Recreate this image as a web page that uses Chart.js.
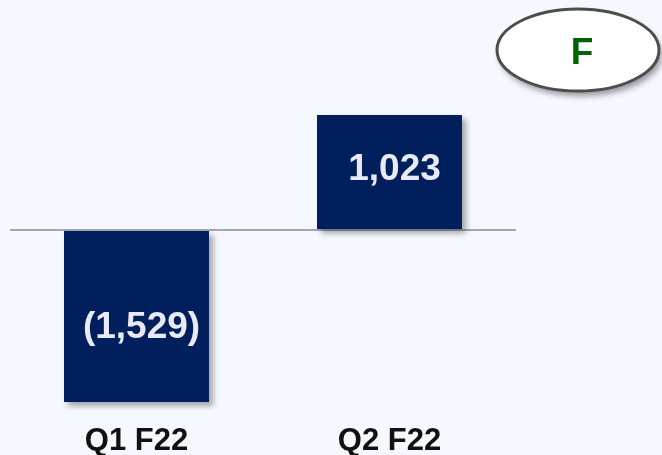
<!DOCTYPE html>
<html>
<head>
<meta charset="utf-8">
<script src="https://cdn.jsdelivr.net/npm/chart.js@4"></script>
<style>
  html, body { margin: 0; padding: 0; background: #f5f8ff; }
  #wrap { width: 662px; height: 455px; }
</style>
</head>
<body>
<div id="wrap"><canvas id="myChart" width="662" height="455"></canvas></div>
<script>
const categories = ['Q1 F22', 'Q2 F22'];
const values = [-1529, 1023];
const badgeText = 'F';

const fmt = v => {
    const s = Math.abs(v).toLocaleString('en-US');
    return v < 0 ? '(' + s + ')' : s;
};

// shadow under the bars + value labels inside them
const barExtras = {
    id: 'barExtras',
    beforeDatasetsDraw(chart) {
        const ctx = chart.ctx;
        ctx.save();
        ctx.shadowColor = 'rgba(0,0,0,0.35)';
        ctx.shadowBlur = 6;
        ctx.shadowOffsetX = 4;
        ctx.shadowOffsetY = 4;
    },
    afterDatasetsDraw(chart) {
        const ctx = chart.ctx;
        ctx.restore();
        const meta = chart.getDatasetMeta(0);
        ctx.save();
        ctx.fillStyle = '#e8ebf5';
        ctx.font = 'bold 37px "Liberation Sans", Arial, sans-serif';
        ctx.textAlign = 'center';
        ctx.textBaseline = 'middle';
        meta.data.forEach((bar, i) => {
            const mid = (bar.y + bar.base) / 2;
            const dy = values[i] < 0 ? 11 : -2;
            ctx.fillText(fmt(values[i]), bar.x + 5, mid + dy);
        });
        ctx.restore();
    },
    afterDraw(chart) {
        // the "F" badge in the top right corner
        const ctx = chart.ctx;
        ctx.save();
        ctx.beginPath();
        ctx.ellipse(578, 50, 81, 41, 0, 0, Math.PI * 2);
        ctx.shadowColor = 'rgba(0,0,0,0.4)';
        ctx.shadowBlur = 6;
        ctx.shadowOffsetX = 3;
        ctx.shadowOffsetY = 5;
        ctx.fillStyle = '#ffffff';
        ctx.fill();
        ctx.shadowColor = 'transparent';
        ctx.lineWidth = 3;
        ctx.strokeStyle = '#4d4d4d';
        ctx.stroke();
        ctx.fillStyle = '#006400';
        ctx.font = 'bold 37px "Liberation Sans", Arial, sans-serif';
        ctx.textAlign = 'center';
        ctx.textBaseline = 'middle';
        ctx.fillText(badgeText, 582, 54);
        ctx.restore();
    }
};

new Chart(document.getElementById('myChart'), {
    type: 'bar',
    data: {
        labels: categories,
        datasets: [{
            data: values,
            backgroundColor: '#001f5c',
            borderWidth: 0,
            barPercentage: 0.573,
            categoryPercentage: 1
        }]
    },
    options: {
        responsive: false,
        animation: false,
        devicePixelRatio: 1,
        layout: { padding: { left: 10, right: 146, top: 5, bottom: 0 } },
        plugins: {
            legend: { display: false },
            tooltip: { enabled: false }
        },
        scales: {
            x: {
                grid: { display: false, drawTicks: false },
                border: { display: false },
                ticks: {
                    color: '#111111',
                    padding: 13,
                    font: { family: '"Liberation Sans", Arial, sans-serif', size: 31, weight: 'bold' }
                },
                afterFit(scale) { scale.height = 45; }
            },
            y: {
                min: -1600,
                max: 2000,
                ticks: { display: false, stepSize: 400 },
                border: { display: false },
                grid: {
                    drawTicks: false,
                    lineWidth: 2,
                    color: c => c.tick && c.tick.value === 0 ? '#a4a6b4' : 'transparent'
                },
                afterFit(scale) { scale.width = 0; }
            }
        }
    },
    plugins: [barExtras]
});
</script>
</body>
</html>
